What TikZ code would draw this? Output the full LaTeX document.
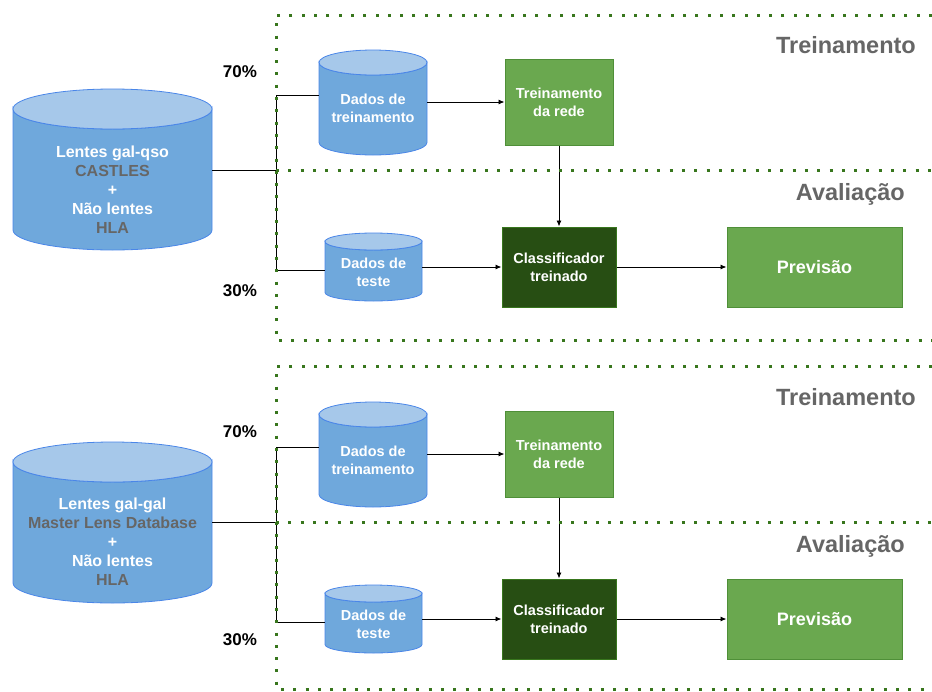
\documentclass[tikz,border=0pt]{standalone}
\usepackage{fontspec}
\setmainfont{Liberation Sans}
\usetikzlibrary{arrows.meta}

\definecolor{dbfill}{HTML}{6FA8DC}
\definecolor{dbtop}{HTML}{A6C8EA}
\definecolor{dbline}{HTML}{4A86E8}
\definecolor{boxgreen}{HTML}{6AA84F}
\definecolor{boxgreenline}{HTML}{4F8F38}
\definecolor{boxdark}{HTML}{274E13}
\definecolor{boxdarkline}{HTML}{38761D}
\definecolor{framegreen}{HTML}{38761D}
\definecolor{labelgray}{HTML}{666666}

\tikzset{
  dbbody/.style={fill=dbfill, draw=dbline, line width=0.8pt},
  dbcap/.style={fill=dbtop, draw=dbline, line width=0.8pt},
  dbanchor/.style={draw=none, rectangle, inner sep=0pt},
  dbtext/.style={text=white, align=center, inner sep=0pt},
  smalltext/.style={font=\fontsize{14.5}{17.7}\selectfont\bfseries},
  bigtext/.style={font=\fontsize{16}{19}\selectfont\bfseries},
  trainbox/.style={rectangle, draw=boxgreenline, fill=boxgreen, line width=1pt,
    text=white, align=center, inner sep=0pt, smalltext},
  classbox/.style={rectangle, draw=boxdarkline, fill=boxdark, line width=1pt,
    text=white, align=center, inner sep=0pt, smalltext},
  predbox/.style={rectangle, draw=boxgreenline, fill=boxgreen, line width=1pt,
    text=white, align=center, inner sep=0pt, font=\fontsize{18}{21}\selectfont\bfseries},
  stagelabel/.style={text=labelgray, inner sep=0pt, font=\fontsize{23.5}{26}\selectfont\bfseries},
  pctlabel/.style={text=black, inner sep=0pt, font=\fontsize{17}{20}\selectfont\bfseries},
  stageframe/.style={draw=framegreen, line width=3pt, dash pattern=on 3pt off 9.3pt},
  link/.style={draw=black, line width=0.9pt},
  flow/.style={link, -{Latex[length=6pt,width=5pt]}},
}

% database cylinder: name, centre x, top y, bottom y, half width, cap radius
\newcommand{\dbcylinder}[6]{%
  \path[dbbody] ({#2-#5},{#3+#6}) -- ({#2-#5},{#4-#6})
    arc[start angle=180, end angle=0, x radius=#5, y radius=#6]
    -- ({#2+#5},{#3+#6})
    arc[start angle=0, end angle=180, x radius=#5, y radius=#6] -- cycle;
  \path[dbcap] (#2,{#3+#6}) ellipse[x radius=#5, y radius=#6];
  \node[dbanchor, minimum width={2*#5*1pt}, minimum height={(#4-#3)*1pt}]
    (#1) at (#2,{(#3+#4)/2}) {};
}

\begin{document}
\begin{tikzpicture}[x=1pt, y=-1pt]
\useasboundingbox (0,0) rectangle (932,691);

%% ---------------- gal-qso pipeline ----------------
\dbcylinder{qsodb}{112.5}{89}{250}{99.5}{20}
\node[dbtext, bigtext] (qsodb-txt) at (112.5,190)
  {Lentes gal-qso\\ \textcolor{labelgray}{CASTLES}\\ +\\ Não lentes\\ \textcolor{labelgray}{HLA}};

\dbcylinder{qsotrain}{373}{50}{155}{54}{12.5}
\node[dbtext, smalltext] (qsotrain-txt) at (373,108.5) {Dados de\\ treinamento};

\dbcylinder{qsotest}{373.5}{233}{301}{48.5}{8.5}
\node[dbtext, smalltext] (qsotest-txt) at (373.5,272) {Dados de\\ teste};

\node[trainbox, minimum width=108pt, minimum height=86pt] (qsonet) at (559,102) {Treinamento\\ da rede};
\node[classbox, minimum width=114pt, minimum height=80pt] (qsoclf) at (559,267) {Classificador\\ treinado};
\node[predbox, minimum width=175pt, minimum height=80pt] (qsopred) at (814.5,267) {Previsão};

\coordinate (qsosplit) at (276,170);
\coordinate (qsoup) at (276,95);
\coordinate (qsodown) at (276,270);

\draw[link] (qsodb.east |- qsosplit) -- (qsosplit);
\draw[link] (qsoup) -- (qsodown);
\draw[link] (qsoup) -- (qsoup -| qsotrain.west);
\draw[link] (qsodown) -- (qsodown -| qsotest.west);
\draw[flow] (qsotrain.east |- qsonet) -- (qsonet.west);
\draw[flow] (qsonet.south) -- (qsoclf.north);
\draw[flow] (qsotest.east |- qsoclf) -- (qsoclf.west);
\draw[flow] (qsoclf.east) -- (qsopred.west);

\draw[stageframe] (932,15) -- (276,15) -- (276,340) -- (932,340);
\draw[stageframe] (276,170) -- (932,170);

\node[stagelabel, anchor=base east] (qsotrainlbl) at (916,53) {Treinamento};
\node[stagelabel, anchor=base east] (qsoevallbl) at (905,200) {Avaliação};
\node[pctlabel, anchor=base] (qso70) at (240,77) {70\%};
\node[pctlabel, anchor=base] (qso30) at (240,296) {30\%};

%% ---------------- gal-gal pipeline ----------------
\dbcylinder{galdb}{112.5}{442}{603}{99.5}{20}
\node[dbtext, bigtext] (galdb-txt) at (112.5,542)
  {Lentes gal-gal\\ \textcolor{labelgray}{Master Lens Database}\\ +\\ Não lentes\\ \textcolor{labelgray}{HLA}};

\dbcylinder{galtrain}{373}{402}{507}{54}{12.5}
\node[dbtext, smalltext] (galtrain-txt) at (373,460.5) {Dados de\\ treinamento};

\dbcylinder{galtest}{373.5}{585}{653}{48.5}{8.5}
\node[dbtext, smalltext] (galtest-txt) at (373.5,624) {Dados de\\ teste};

\node[trainbox, minimum width=108pt, minimum height=86pt] (galnet) at (559,454) {Treinamento\\ da rede};
\node[classbox, minimum width=114pt, minimum height=80pt] (galclf) at (559,619) {Classificador\\ treinado};
\node[predbox, minimum width=175pt, minimum height=80pt] (galpred) at (814.5,619) {Previsão};

\coordinate (galsplit) at (276,522);
\coordinate (galup) at (276,447);
\coordinate (galdown) at (276,622);

\draw[link] (galdb.east |- galsplit) -- (galsplit);
\draw[link] (galup) -- (galdown);
\draw[link] (galup) -- (galup -| galtrain.west);
\draw[link] (galdown) -- (galdown -| galtest.west);
\draw[flow] (galtrain.east |- galnet) -- (galnet.west);
\draw[flow] (galnet.south) -- (galclf.north);
\draw[flow] (galtest.east |- galclf) -- (galclf.west);
\draw[flow] (galclf.east) -- (galpred.west);

\draw[stageframe] (932,366) -- (276,366) -- (276,689) -- (932,689);
\draw[stageframe] (276,522) -- (932,522);

\node[stagelabel, anchor=base east] (galtrainlbl) at (916,405) {Treinamento};
\node[stagelabel, anchor=base east] (galevallbl) at (905,552) {Avaliação};
\node[pctlabel, anchor=base] (gal70) at (240,437) {70\%};
\node[pctlabel, anchor=base] (gal30) at (240,645) {30\%};
\end{tikzpicture}
\end{document}
